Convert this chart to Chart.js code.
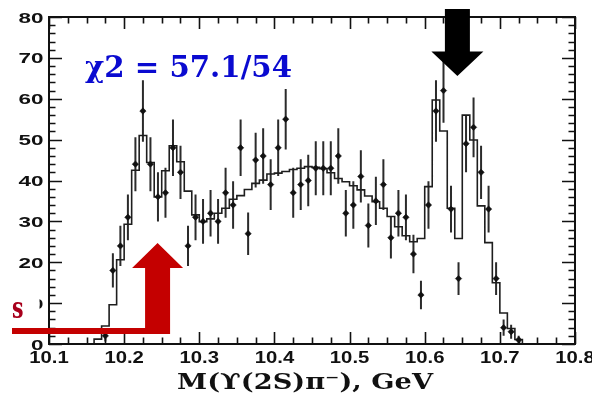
<!DOCTYPE html>
<html>
<head>
<meta charset="utf-8">
<script src="https://cdn.jsdelivr.net/npm/chart.js@4.4.1/dist/chart.umd.min.js"></script>
<style>
  html, body { margin: 0; padding: 0; background: #fff; overflow: hidden; }
  #wrap { position: relative; width: 592px; height: 395px; }
</style>
</head>
<body>
<div id="wrap"><canvas id="c" width="592" height="395"></canvas></div>
<script>
// Y(2S)pi- invariant mass, 10 MeV bins (bin centres, GeV)
const binCentres = [
  10.165, 10.175, 10.185, 10.195, 10.205, 10.215, 10.225, 10.235, 10.245, 10.255,
  10.265, 10.275, 10.285, 10.295, 10.305, 10.315, 10.325, 10.335, 10.345, 10.355,
  10.365, 10.375, 10.385, 10.395, 10.405, 10.415, 10.425, 10.435, 10.445, 10.455,
  10.465, 10.475, 10.485, 10.495, 10.505, 10.515, 10.525, 10.535, 10.545, 10.555,
  10.565, 10.575, 10.585, 10.595, 10.605, 10.615, 10.625, 10.635, 10.645, 10.655,
  10.665, 10.675, 10.685, 10.695, 10.705, 10.715, 10.725
];

// fitted model, events per bin
const fitValues = [
  1.2, 4.4, 9.6, 20.6, 29.3, 42.5, 51.0, 44.4, 36.0, 42.4,
  48.5, 44.6, 37.4, 31.6, 29.9, 30.6, 32.0, 33.2, 35.4, 36.3,
  37.8, 39.3, 40.1, 41.6, 41.8, 42.2, 42.7, 43.0, 43.4, 43.2,
  42.9, 41.9, 40.5, 39.7, 38.7, 37.7, 36.2, 34.8, 33.2, 31.2,
  28.7, 26.5, 25.0, 25.8, 38.5, 59.7, 52.1, 33.2, 25.8, 56.0,
  49.9, 33.8, 24.8, 15.0, 7.6, 3.8, 1.1
];

// observed events per bin (null = empty bin)
const counts = [
  null, 2, 18, 24, 31, 44, 57, 44, 36, 37,
  48, 42, 24, 31, 30, 32, 30, 37, 34, 48,
  27, 45, 46, 39, 48, 55, 37, 39, 40, 43,
  43, 43, 46, 32, 34, 41, 29, 35, 39, 26,
  32, 31, 22, 12, 34, 57, 62, 33, 16, 49,
  53, 42, 33, 16, 4, 3, 1
];

// statistical uncertainties on the counts
const countErrors = [
  0, 1.4, 4.2, 4.9, 5.6, 6.6, 7.5, 6.6, 6.0, 6.1,
  6.9, 6.5, 4.9, 5.6, 5.5, 5.7, 5.5, 6.1, 5.8, 6.9,
  5.2, 6.7, 6.8, 6.2, 6.9, 7.4, 6.1, 6.2, 6.3, 6.6,
  6.6, 6.6, 6.8, 5.7, 5.8, 6.4, 5.4, 5.9, 6.2, 5.1,
  5.7, 5.6, 4.7, 3.5, 5.8, 7.5, 7.9, 5.7, 4.0, 7.0,
  7.3, 6.5, 5.7, 4.0, 2.0, 1.7, 1.0
];

const xTicks = [10.1, 10.2, 10.3, 10.4, 10.5, 10.6, 10.7, 10.8];
const yTicks = [0, 10, 20, 30, 40, 50, 60, 70, 80];
const xTickLabels = ['10.1', '10.2', '10.3', '10.4', '10.5', '10.6', '10.7', '10.8'];
const yTickLabels = ['0', '10', '20', '30', '40', '50', '60', '70', '80'];

const chi2Text = 'χ2 = 57.1/54';
const xTitle = 'M(ϒ(2S)π⁻), GeV';

const BIN_W = 0.01;
const X_MIN = 10.1, X_MAX = 10.8, Y_MIN = 0, Y_MAX = 80;

// step outline of the fit: one point per lower bin edge
const histPoints = [{ x: X_MIN, y: 0 }];
binCentres.forEach((c, i) => histPoints.push({ x: +(c - BIN_W / 2).toFixed(3), y: fitValues[i] }));
histPoints.push({ x: +(binCentres[binCentres.length - 1] + BIN_W / 2).toFixed(3), y: 0 });
histPoints.push({ x: X_MAX, y: 0 });

const dataPoints = [];
binCentres.forEach((c, i) => { if (counts[i] !== null) dataPoints.push({ x: c, y: counts[i], err: countErrors[i] }); });

// text drawn with a horizontal stretch so it fills a given width
function drawStretched(ctx, text, font, x, y, width, align) {
  ctx.save();
  ctx.font = font;
  const w = ctx.measureText(text).width;
  const s = width / w;
  ctx.translate(x, y);
  ctx.scale(s, 1);
  ctx.textAlign = align;
  ctx.textBaseline = 'alphabetic';
  ctx.fillText(text, 0, 0);
  ctx.restore();
}

const errorBars = {
  id: 'errorBars',
  beforeDatasetsDraw(chart) {
    const { ctx, scales: { x, y } } = chart;
    ctx.save();
    ctx.strokeStyle = '#2b2b2b';
    ctx.lineWidth = 2;
    ctx.beginPath();
    dataPoints.forEach(p => {
      if (!p.err) return;
      const px = x.getPixelForValue(p.x);
      ctx.moveTo(px, y.getPixelForValue(p.y - p.err));
      ctx.lineTo(px, y.getPixelForValue(Math.min(p.y + p.err, Y_MAX)));
    });
    ctx.stroke();
    ctx.restore();
  }
};

const frame = {
  id: 'frame',
  afterDatasetsDraw(chart) {
    const { ctx, chartArea: a, scales: { x, y } } = chart;
    ctx.save();
    ctx.strokeStyle = '#111';
    ctx.lineWidth = 1.6;
    ctx.beginPath();
    // x ticks: majors from xTicks, three minors between
    for (let k = 0; k < xTicks.length; k++) {
      for (let m = 0; m < 4; m++) {
        if (k === xTicks.length - 1 && m > 0) break;
        const v = xTicks[k] + m * 0.025;
        const px = Math.round(x.getPixelForValue(v)) + 0.5;
        const len = m === 0 ? 12 : 6.5;
        ctx.moveTo(px, a.bottom); ctx.lineTo(px, a.bottom - len);
        ctx.moveTo(px, a.top); ctx.lineTo(px, a.top + len);
      }
    }
    // y ticks: majors from yTicks, four minors between
    for (let k = 0; k < yTicks.length; k++) {
      for (let m = 0; m < 5; m++) {
        if (k === yTicks.length - 1 && m > 0) break;
        const v = yTicks[k] + m * 2;
        const py = Math.round(y.getPixelForValue(v)) + 0.5;
        const len = m === 0 ? 13 : 6.5;
        ctx.moveTo(a.left, py); ctx.lineTo(a.left + len, py);
        ctx.moveTo(a.right, py); ctx.lineTo(a.right - len, py);
      }
    }
    ctx.stroke();
    ctx.lineWidth = 2;
    ctx.strokeRect(a.left, a.top, a.right - a.left, a.bottom - a.top);
    ctx.restore();
  },
  afterDraw(chart) {
    const { ctx, chartArea: a, scales: { x, y } } = chart;
    ctx.save();
    ctx.fillStyle = '#111';
    // tick labels
    yTickLabels.forEach((t, i) => {
      const py = y.getPixelForValue(yTicks[i]);
      drawStretched(ctx, t, 'bold 15px "Liberation Sans", Arial, sans-serif', 43.5, py + 5.5, 12.5 * t.length, 'right');
    });
    xTickLabels.forEach((t, i) => {
      const px = x.getPixelForValue(xTicks[i]);
      drawStretched(ctx, t, 'bold 16px "Liberation Sans", Arial, sans-serif', px, 363, 39.5, 'center');
    });
    // axis title
    ctx.fillStyle = '#111';
    drawStretched(ctx, xTitle, 'bold 22px "DejaVu Serif", serif', 177, 388.5, 256, 'left');

    // fit quality
    ctx.fillStyle = '#0a0ad0';
    drawStretched(ctx, chi2Text, 'bold 30px "DejaVu Serif", serif', 85, 76.5, 207, 'left');

    // black arrow, pointing down onto the upper peak
    const bx = x.getPixelForValue(10.6435);
    ctx.fillStyle = '#000';
    ctx.beginPath();
    ctx.moveTo(bx - 12.5, 9);
    ctx.lineTo(bx + 12.5, 9);
    ctx.lineTo(bx + 12.5, 51.5);
    ctx.lineTo(bx + 26, 51.5);
    ctx.lineTo(bx, 76);
    ctx.lineTo(bx - 26, 51.5);
    ctx.lineTo(bx - 12.5, 51.5);
    ctx.closePath();
    ctx.fill();

    // red arrow and baseline bar
    const rx = x.getPixelForValue(10.2445);
    ctx.fillStyle = '#c40000';
    ctx.beginPath();
    ctx.moveTo(rx - 12.5, 334);
    ctx.lineTo(rx - 12.5, 268);
    ctx.lineTo(rx - 25.5, 268);
    ctx.lineTo(rx, 243);
    ctx.lineTo(rx + 25.5, 268);
    ctx.lineTo(rx + 12.5, 268);
    ctx.lineTo(rx + 12.5, 334);
    ctx.closePath();
    ctx.fill();
    ctx.fillRect(12, 328, rx - 12, 6);

    // label box on the left edge
    ctx.fillStyle = '#fff';
    ctx.fillRect(0, 289, 39.5, 36);
    ctx.fillStyle = '#a8001c';
    drawStretched(ctx, 's', 'bold 30px "DejaVu Serif", serif', 12, 318, 11.5, 'left');
    ctx.restore();
  }
};

new Chart(document.getElementById('c'), {
  type: 'scatter',
  data: {
    datasets: [
      {
        type: 'line',
        data: histPoints,
        stepped: 'before',
        borderColor: '#1e1e1e',
        borderWidth: 1.6,
        pointRadius: 0,
        fill: false,
        order: 2
      },
      {
        type: 'scatter',
        data: dataPoints,
        pointStyle: 'rectRot',
        pointRadius: 3.2,
        backgroundColor: '#111',
        borderColor: '#111',
        borderWidth: 0.5,
        order: 1
      }
    ]
  },
  options: {
    responsive: false,
    animation: false,
    devicePixelRatio: 1,
    layout: { padding: { left: 49, right: 17, top: 17, bottom: 51 } },
    plugins: { legend: { display: false }, tooltip: { enabled: false } },
    scales: {
      x: { type: 'linear', min: X_MIN, max: X_MAX, display: false },
      y: { type: 'linear', min: Y_MIN, max: Y_MAX, display: false }
    }
  },
  plugins: [errorBars, frame]
});
</script>
</body>
</html>
